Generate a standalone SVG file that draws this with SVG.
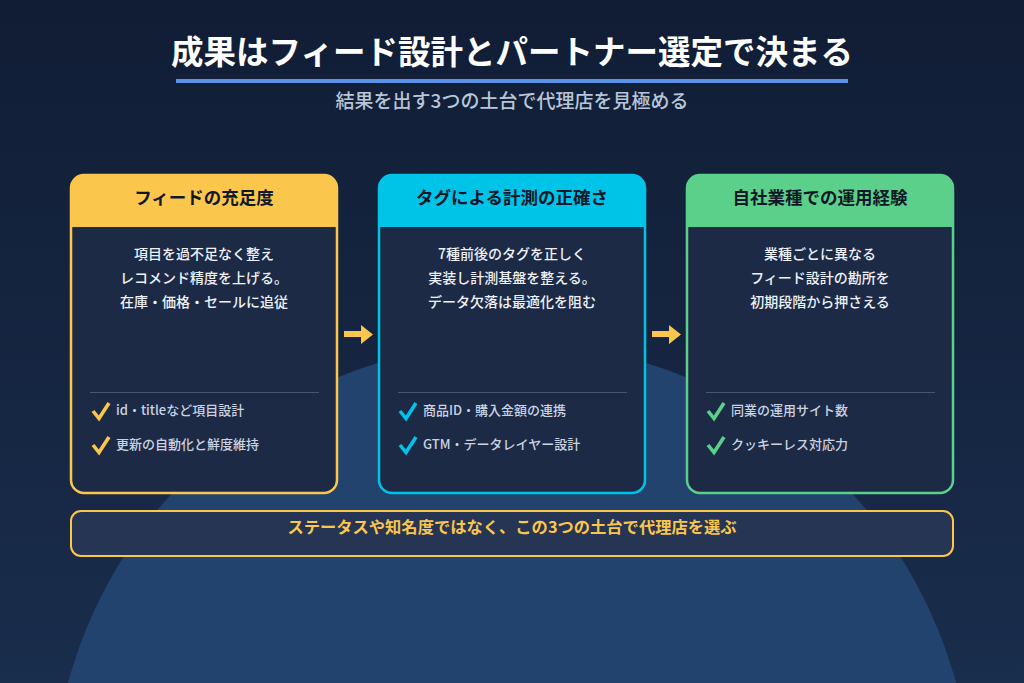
<svg xmlns="http://www.w3.org/2000/svg" width="1024" height="683" viewBox="0 0 1024 683">
  <defs>
    <linearGradient id="bg" x1="0" y1="0" x2="0" y2="1">
      <stop offset="0" stop-color="#111d35"/>
      <stop offset="1" stop-color="#192d4c"/>
    </linearGradient>
    <style>
      text { font-family: "Noto Sans CJK JP", "Noto Sans", sans-serif; }
      .title { font-size: 32.5px; font-weight: 700; fill: #ffffff; text-anchor: middle; }
      .sub { font-size: 19px; font-weight: 500; fill: #b9c5d8; text-anchor: middle; }
      .body { fill: #1d2a45; stroke-width: 2.5; }
      .htext { font-size: 17.5px; font-weight: 700; fill: #101827; text-anchor: middle; }
      .desc { font-size: 14px; font-weight: 500; fill: #eef2f8; text-anchor: middle; }
      .div { stroke: #465677; stroke-width: 1.2; }
      .item { font-size: 13px; font-weight: 500; fill: #c9d3e2; }
      .chk { fill: none; stroke-width: 3.6; stroke-linecap: butt; stroke-linejoin: miter; }
      .arrow { fill: #fbc64c; }
      .banner { fill: #253553; stroke: #fbc64c; stroke-width: 2; }
      .btext { font-size: 16.3px; font-weight: 700; fill: #fbc64c; text-anchor: middle; }
    </style>
  </defs>
  <rect x="0" y="0" width="1024" height="683" fill="url(#bg)"/>
  <circle cx="512" cy="803" r="460" fill="#22436d"/>

  <g id="header">
    <text class="title" x="512" y="64">成果はフィード設計とパートナー選定で決まる</text>
    <rect x="176" y="79" width="672" height="4" fill="#5b93e8"/>
    <text class="sub" x="512" y="108">結果を出す3つの土台で代理店を見極める</text>
  </g>

  <g id="card-feed">
    <rect class="body" x="71" y="175" width="266" height="318" rx="13" stroke="#fbc64c"/>
    <path d="M71,227 V188 A13,13 0 0 1 84,175 H324 A13,13 0 0 1 337,188 V227 Z" fill="#fbc64c"/>
    <text class="htext" x="204" y="204">フィードの充足度</text>
    <text class="desc" x="204" y="259">項目を過不足なく整え</text>
    <text class="desc" x="204" y="283">レコメンド精度を上げる。</text>
    <text class="desc" x="204" y="307">在庫・価格・セールに追従</text>
    <line class="div" x1="90" y1="392.5" x2="319" y2="392.5"/>
    <polyline class="chk" stroke="#fbc64c" points="93,411 99,418.5 109,403"/>
    <text class="item" x="116" y="415">id・titleなど項目設計</text>
    <polyline class="chk" stroke="#fbc64c" points="93,445 99,452.5 109,437"/>
    <text class="item" x="116" y="449">更新の自動化と鮮度維持</text>
  </g>

  <g id="card-tag">
    <rect class="body" x="379" y="175" width="266" height="318" rx="13" stroke="#00c3e8"/>
    <path d="M379,227 V188 A13,13 0 0 1 392,175 H632 A13,13 0 0 1 645,188 V227 Z" fill="#00c3e8"/>
    <text class="htext" x="512" y="204">タグによる計測の正確さ</text>
    <text class="desc" x="512" y="259">7種前後のタグを正しく</text>
    <text class="desc" x="512" y="283">実装し計測基盤を整える。</text>
    <text class="desc" x="512" y="307">データ欠落は最適化を阻む</text>
    <line class="div" x1="398" y1="392.5" x2="627" y2="392.5"/>
    <polyline class="chk" stroke="#00c3e8" points="400,411 406,418.5 416,403"/>
    <text class="item" x="423" y="415">商品ID・購入金額の連携</text>
    <polyline class="chk" stroke="#00c3e8" points="400,445 406,452.5 416,437"/>
    <text class="item" x="423" y="449">GTM・データレイヤー設計</text>
  </g>

  <g id="card-experience">
    <rect class="body" x="687" y="175" width="266" height="318" rx="13" stroke="#5bd08b"/>
    <path d="M687,227 V188 A13,13 0 0 1 700,175 H940 A13,13 0 0 1 953,188 V227 Z" fill="#5bd08b"/>
    <text class="htext" x="820" y="204">自社業種での運用経験</text>
    <text class="desc" x="820" y="259">業種ごとに異なる</text>
    <text class="desc" x="820" y="283">フィード設計の勘所を</text>
    <text class="desc" x="820" y="307">初期段階から押さえる</text>
    <line class="div" x1="706" y1="392.5" x2="935" y2="392.5"/>
    <polyline class="chk" stroke="#5bd08b" points="708,411 714,418.5 724,403"/>
    <text class="item" x="731" y="415">同業の運用サイト数</text>
    <polyline class="chk" stroke="#5bd08b" points="708,445 714,452.5 724,437"/>
    <text class="item" x="731" y="449">クッキーレス対応力</text>
  </g>

  <g id="connectors">
    <path class="arrow" d="M344,331 H361 V325 L373,334.5 L361,344 V337 H344 Z"/>
    <path class="arrow" d="M652,331 H669 V325 L681,334.5 L669,344 V337 H652 Z"/>
  </g>

  <g id="banner">
    <rect class="banner" x="71" y="511" width="882" height="45" rx="10"/>
    <text class="btext" x="512" y="533">ステータスや知名度ではなく、この3つの土台で代理店を選ぶ</text>
  </g>
</svg>
